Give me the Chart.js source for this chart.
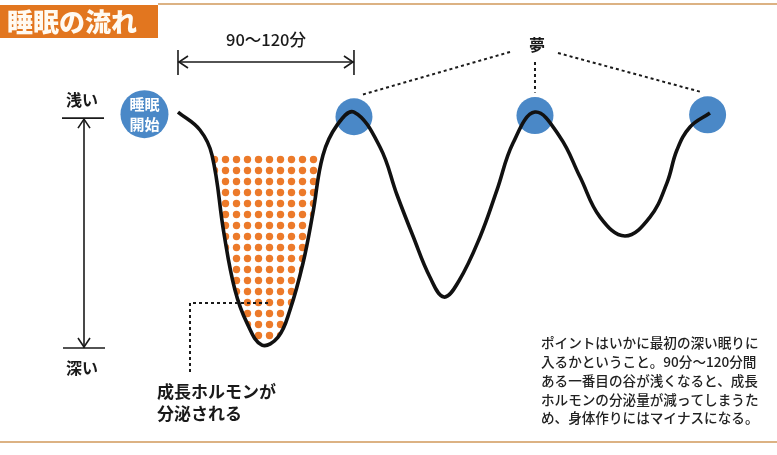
<!DOCTYPE html>
<html><head><meta charset="utf-8">
<script src="https://cdn.jsdelivr.net/npm/chart.js@4/dist/chart.umd.min.js"></script>
<style>html,body{margin:0;padding:0;background:#fff;overflow:hidden}#wrap{width:777px;height:455px;position:relative}canvas{display:block}</style>
</head><body><div id="wrap"><canvas id="c" width="777" height="455"></canvas></div>
<script>
// ---- texts ----
const titleText = '睡眠の流れ';
const cycleLabel = '90〜120分';
const dreamLabel = '夢';
const shallowLabel = '浅い';
const deepLabel = '深い';
const startLabel = ['睡眠', '開始'];
const hormoneLabel = ['成長ホルモンが', '分泌される'];
const noteLines = [
  'ポイントはいかに最初の深い眠りに',
  '入るかということ。90分〜120分間',
  'ある一番目の谷が浅くなると、成長',
  'ホルモンの分泌量が減ってしまうた',
  'め、身体作りにはマイナスになる。'
];
// ---- data: time (minutes from sleep onset) and sleep depth (0 = shallow, 100 = deep) ----
const minutes = [0, 13.1, 20.3, 27.4, 34.0, 41.2, 50.1, 59.7, 66.8, 74.6, 80.5, 86.5, 94.9, 105,
  120.5, 130.7, 140.2, 150.3, 158.7, 167.6, 180.2, 190.3, 199.9, 213.0,
  227.9, 239.9, 251.8, 266.7, 281.6, 291.7, 297.7, 305.5, 317.4];
const depth = [0, 7.7, 18.5, 52.0, 76.4, 90.6, 100, 96.6, 85.0, 64.8, 43.3, 18.5, 5.6, 0,
  15.0, 35.6, 53.2, 70.8, 79.4, 72.5, 53.6, 33.5, 13.3, 0,
  10.7, 27.9, 45.1, 53.2, 45.1, 30.5, 16.3, 6.4, 0.4];
const dreamMinutes = [105, 213, 316];
const dreamDepth = [2, 1.5, 1.2];
const startMinute = [-20];
const startDepth = [0.9];
const hormoneLevel = 18.5;
const firstCycleEnd = 105;

const curve = minutes.map((t, i) => ({x: t, y: depth[i]}));
const hormone = curve.filter(p => p.x <= firstCycleEnd && p.y >= hormoneLevel);
const dreams = dreamMinutes.map((t, i) => ({x: t, y: dreamDepth[i]}));
const starts = startMinute.map((t, i) => ({x: t, y: startDepth[i]}));

// dotted pattern
function dotPattern() {
  const p = document.createElement('canvas');
  p.width = 11; p.height = 11;
  const g = p.getContext('2d');
  g.fillStyle = '#ec7a2a';
  g.beginPath(); g.arc(5.5, 5.5, 3.7, 0, Math.PI * 2); g.fill();
  return document.getElementById('c').getContext('2d').createPattern(p, 'repeat');
}

const FONT = '"Noto Sans CJK JP", "Noto Sans", sans-serif';
const deco = {
  id: 'deco',
  afterDatasetsDraw(chart) {
    const {ctx} = chart;
    const xs = chart.scales.x, ys = chart.scales.y;
    const L = (x1, y1, x2, y2) => { ctx.beginPath(); ctx.moveTo(x1, y1); ctx.lineTo(x2, y2); ctx.stroke(); };
    ctx.save();
    // frame lines
    ctx.strokeStyle = '#dcb283'; ctx.lineWidth = 2;
    L(158, 4, 777, 4);
    L(0, 442, 777, 442);
    // title banner
    ctx.fillStyle = '#e2761f';
    ctx.fillRect(0, 5, 158, 33);
    ctx.fillStyle = '#fffaf2';
    ctx.font = '900 26px ' + FONT;
    ctx.textBaseline = 'middle'; ctx.textAlign = 'left';
    ctx.fillText(titleText, 7, 22);

    ctx.strokeStyle = '#1a1a1a'; ctx.fillStyle = '#1a1a1a';
    ctx.lineWidth = 1.6;
    // 90-120 arrow
    const ax0 = xs.getPixelForValue(0), ax1 = xs.getPixelForValue(firstCycleEnd);
    const ay = 62;
    L(ax0, 50, ax0, 75); L(ax1, 50, ax1, 75);
    L(ax0, ay, ax1, ay);
    ctx.beginPath(); ctx.moveTo(ax0 + 10, ay - 6); ctx.lineTo(ax0 + 1, ay); ctx.lineTo(ax0 + 10, ay + 6); ctx.stroke();
    ctx.beginPath(); ctx.moveTo(ax1 - 10, ay - 6); ctx.lineTo(ax1 - 1, ay); ctx.lineTo(ax1 - 10, ay + 6); ctx.stroke();
    ctx.font = '500 16.5px ' + FONT; ctx.textAlign = 'center';
    ctx.fillText(cycleLabel, (ax0 + ax1) / 2, 40);

    // depth axis arrow
    const vx = 84, vy0 = ys.getPixelForValue(2.6), vy1 = ys.getPixelForValue(101.3);
    L(62, vy0, 104, vy0); L(63, vy1, 105, vy1);
    L(vx, vy0, vx, vy1);
    ctx.beginPath(); ctx.moveTo(vx - 6, vy0 + 10); ctx.lineTo(vx, vy0 + 1); ctx.lineTo(vx + 6, vy0 + 10); ctx.stroke();
    ctx.beginPath(); ctx.moveTo(vx - 6, vy1 - 10); ctx.lineTo(vx, vy1 - 1); ctx.lineTo(vx + 6, vy1 - 10); ctx.stroke();
    ctx.font = '700 16px ' + FONT;
    ctx.fillText(shallowLabel, 82, vy0 - 18);
    ctx.fillText(deepLabel, 82, vy1 + 20);

    // dream label + dotted leaders
    ctx.fillText(dreamLabel, 537, 45);
    ctx.setLineDash([3, 3]); ctx.lineWidth = 2;
    const dp = dreams.map(d => [xs.getPixelForValue(d.x), ys.getPixelForValue(d.y)]);
    L(510, 52, dp[0][0] + 8, dp[0][1] - 22);
    L(dp[1][0], 62, dp[1][0], dp[1][1] - 23);
    L(558, 53, dp[2][0] - 7, dp[2][1] - 23);

    // hormone leader
    L(268, 303, 190, 303);
    L(190, 303, 190, 372);
    ctx.setLineDash([]);
    ctx.textAlign = 'left';
    ctx.font = '700 17px ' + FONT;
    ctx.fillText(hormoneLabel[0], 157, 392);
    ctx.fillText(hormoneLabel[1], 157, 414);

    // note
    ctx.font = '500 13.6px ' + FONT;
    ctx.fillStyle = '#222';
    noteLines.forEach((s, i) => ctx.fillText(s, 541, 343 + i * 18.8));

    // start circle label
    const sx = xs.getPixelForValue(starts[0].x), sy = ys.getPixelForValue(starts[0].y);
    ctx.fillStyle = '#fff'; ctx.textAlign = 'center';
    ctx.font = '700 15px ' + FONT;
    ctx.fillText(startLabel[0], sx, sy - 10);
    ctx.fillText(startLabel[1], sx, sy + 10);
    ctx.restore();
  }
};

new Chart(document.getElementById('c'), {
  type: 'line',
  data: {
    datasets: [
      {label: '睡眠の深さ', data: curve, borderColor: '#111', borderWidth: 3.6, pointRadius: 0,
        tension: 0.4, fill: false, order: 1},
      {label: '夢', type: 'scatter', data: dreams, backgroundColor: '#4a88c7', borderWidth: 0,
        pointRadius: 18.5, order: 2},
      {label: '睡眠開始', type: 'scatter', data: starts, backgroundColor: '#4a88c7', borderWidth: 0,
        pointRadius: 24, order: 0},
      {label: '成長ホルモン', data: hormone, borderWidth: 0, pointRadius: 0,
        tension: 0.4, backgroundColor: dotPattern(),
        fill: {value: hormoneLevel}, order: 3}
    ]
  },
  options: {
    responsive: false, animation: false, devicePixelRatio: 1,
    layout: {padding: 0, autoPadding: false},
    plugins: {legend: {display: false}, tooltip: {enabled: false}},
    scales: {
      x: {type: 'linear', min: -106.2, max: 357.4, display: false},
      y: {type: 'linear', min: -48.1, max: 147.2, reverse: true, display: false}
    }
  },
  plugins: [deco]
});
</script>
</body></html>
